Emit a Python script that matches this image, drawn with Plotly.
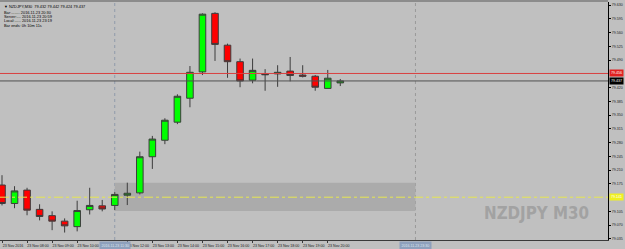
import plotly.graph_objects as go

# ---------------- data ----------------
times = ["2016-11-23 07:00", "2016-11-23 07:30", "2016-11-23 08:00", "2016-11-23 08:30",
         "2016-11-23 09:00", "2016-11-23 09:30", "2016-11-23 10:00", "2016-11-23 10:30",
         "2016-11-23 11:00", "2016-11-23 11:30", "2016-11-23 12:00", "2016-11-23 12:30",
         "2016-11-23 13:00", "2016-11-23 13:30", "2016-11-23 14:00", "2016-11-23 14:30",
         "2016-11-23 15:00", "2016-11-23 15:30", "2016-11-23 16:00", "2016-11-23 16:30",
         "2016-11-23 17:00", "2016-11-23 17:30", "2016-11-23 18:00", "2016-11-23 18:30",
         "2016-11-23 19:00", "2016-11-23 19:30", "2016-11-23 20:00", "2016-11-23 20:30"]
opens  = [79.172, 79.125, 79.159, 79.110, 79.094, 79.080, 79.066, 79.109, 79.119, 79.120,
          79.146, 79.152, 79.244, 79.286, 79.332, 79.393, 79.460, 79.609, 79.528, 79.486,
          79.439, 79.455, 79.455, 79.462, 79.452, 79.449, 79.418, 79.432]
highs  = [79.197, 79.169, 79.165, 79.123, 79.105, 79.087, 79.132, 79.165, 79.134, 79.154,
          79.178, 79.257, 79.297, 79.342, 79.403, 79.475, 79.609, 79.612, 79.532, 79.494,
          79.494, 79.467, 79.477, 79.498, 79.477, 79.452, 79.465, 79.442]
lows   = [79.120, 79.113, 79.095, 79.082, 79.057, 79.051, 79.054, 79.097, 79.105, 79.108,
          79.121, 79.148, 79.213, 79.276, 79.327, 79.370, 79.452, 79.488, 79.445, 79.421,
          79.431, 79.412, 79.422, 79.436, 79.446, 79.412, 79.418, 79.424]
closes = [79.125, 79.157, 79.108, 79.092, 79.080, 79.068, 79.107, 79.120, 79.111, 79.148,
          79.151, 79.244, 79.289, 79.337, 79.398, 79.459, 79.607, 79.530, 79.486, 79.437,
          79.464, 79.453, 79.459, 79.451, 79.449, 79.421, 79.444, 79.437]

# 11:00 label is hidden behind the time box in the reference
x_tick_vals = ["2016-11-23 07:00", "2016-11-23 08:00", "2016-11-23 09:00", "2016-11-23 10:00",
               "2016-11-23 12:00", "2016-11-23 13:00", "2016-11-23 14:00",
               "2016-11-23 15:00", "2016-11-23 16:00", "2016-11-23 17:00", "2016-11-23 18:00",
               "2016-11-23 19:00", "2016-11-23 20:00"]
x_tick_text = ["23 Nov 2016", "23 Nov 08:00", "23 Nov 09:00", "23 Nov 10:00",
               "23 Nov 12:00", "23 Nov 13:00", "23 Nov 14:00",
               "23 Nov 15:00", "23 Nov 16:00", "23 Nov 17:00", "23 Nov 18:00",
               "23 Nov 19:00", "23 Nov 20:00"]
# 79.455 and 79.140 are hidden behind the price boxes in the reference
y_tick_vals = [79.630, 79.595, 79.560, 79.525, 79.490, 79.420, 79.385, 79.350,
               79.315, 79.280, 79.245, 79.210, 79.175, 79.105, 79.070, 79.035]
y_tick_text = ["79.630", "79.595", "79.560", "79.525", "79.490", "79.420", "79.385", "79.350",
               "79.315", "79.280", "79.245", "79.210", "79.175", "79.105", "79.070", "79.035"]

x_range = ["2016-11-23 06:55:13", "2016-11-24 07:11:00"]
y_range = [79.032, 79.638]

ask_price = 79.456
bid_price = 79.437
level_price = 79.141
zone_start = "2016-11-23 11:30"
zone_end = "2016-11-23 23:30"
zone_low = 79.106
zone_high = 79.178

header_lines = [
    "\u25BC NZDJPY,M30  79.432 79.442 79.424 79.437",
    "Bar:........ 2016.11.23 20:30",
    "Server:.... 2016.11.23 20:59",
    "Local:...... 2016.11.23 23:19",
    "Bar ends: 0h 10m 11s",
]
header_shift = [0, -6, -10, -14, -19]

# ---------------- figure ----------------
BG = "#C0C0C0"
FONT = "Liberation Sans, DejaVu Sans, sans-serif"
fig = go.Figure()
fig.add_trace(go.Candlestick(
    x=times, open=opens, high=highs, low=lows, close=closes,
    increasing=dict(fillcolor="#00FF00", line=dict(color="#3C3C3C", width=1)),
    decreasing=dict(fillcolor="#FF0000", line=dict(color="#3C3C3C", width=1)),
    whiskerwidth=0, showlegend=False, hoverinfo="skip",
))

shapes = [
    dict(type="rect", xref="x", yref="y", x0=zone_start, x1=zone_end, y0=zone_low, y1=zone_high,
         fillcolor="#ABABAB", line=dict(width=0), layer="below"),
    dict(type="line", xref="x", yref="paper", x0=zone_start, x1=zone_start, y0=0, y1=1,
         line=dict(color="#8F9AAA", width=1, dash="dot"), layer="below"),
    dict(type="line", xref="x", yref="paper", x0=zone_end, x1=zone_end, y0=0, y1=1,
         line=dict(color="#9A9A9A", width=1, dash="dot"), layer="below"),
    dict(type="line", xref="paper", yref="y", x0=0, x1=1, y0=level_price, y1=level_price,
         line=dict(color="#E6E650", width=1, dash="dashdot")),
    dict(type="line", xref="paper", yref="y", x0=0, x1=1, y0=ask_price, y1=ask_price,
         line=dict(color="#D84040", width=1)),
    dict(type="line", xref="paper", yref="y", x0=0, x1=1, y0=bid_price, y1=bid_price,
         line=dict(color="#505050", width=1)),
    dict(type="rect", xref="paper", yref="paper", x0=0, x1=1, y0=1, y1=1.009,
         fillcolor="#8C8C8C", line=dict(width=0)),
]

small = dict(family=FONT, size=3.6, color="#1A1A1A")

annotations = []
for line, sh in zip(header_lines, header_shift):
    annotations.append(dict(
        xref="paper", yref="paper", x=0, y=1, xanchor="left", yanchor="top",
        xshift=2, yshift=sh, text=line, showarrow=False,
        font=dict(family=FONT, size=3.9, color="#000000"),
    ))

for price, bg, fg in [(ask_price, "#E02020", "#FFFFFF"), (bid_price, "#000000", "#FFFFFF"),
                      (level_price, "#F0F020", "#FFFFFF")]:
    annotations.append(dict(
        xref="paper", yref="y", x=1, y=price, xanchor="left", yanchor="middle", xshift=1,
        text="%.3f" % price, showarrow=False, bgcolor=bg, borderpad=1,
        font=dict(family=FONT, size=3.6, color=fg),
    ))

for t in [zone_start, zone_end]:
    annotations.append(dict(
        xref="x", yref="paper", x=t, y=0, xanchor="center", yanchor="top", yshift=-1,
        text=t.replace("-", "."), showarrow=False, bgcolor="#8EA0BC", borderpad=1.5,
        font=dict(family=FONT, size=3.6, color="#DDE4EE"),
    ))

annotations.append(dict(
    xref="paper", yref="paper", x=0.972, y=0.113, xanchor="right", yanchor="middle",
    text="<b>NZDJPY M30</b>", showarrow=False,
    font=dict(family="Liberation Sans Narrow, DejaVu Sans Condensed, Arial Narrow, sans-serif",
              size=16.8, color="#A2A2A2"),
))

fig.update_layout(
    width=625, height=249,
    margin=dict(l=0, r=17, t=2, b=9, autoexpand=False),
    paper_bgcolor=BG, plot_bgcolor=BG,
    boxgap=0.25,
    shapes=shapes, annotations=annotations,
    xaxis=dict(type="date", range=x_range, rangeslider=dict(visible=False),
               showgrid=False, zeroline=False, showline=True, linecolor="#3A3A3A", linewidth=1,
               tickvals=x_tick_vals, ticktext=x_tick_text, ticks="outside", ticklen=2,
               tickcolor="#3A3A3A", tickfont=small, tickangle=0, ticklabelshift=11,
               ticklabelstandoff=0, automargin=False, fixedrange=True),
    yaxis=dict(side="right", range=y_range, showgrid=False, zeroline=False, showline=True,
               linecolor="#000000", linewidth=1, tickvals=y_tick_vals, ticktext=y_tick_text,
               ticks="outside", ticklen=2, tickcolor="#000000", tickfont=small,
               ticklabelstandoff=0, automargin=False, fixedrange=True),
    showlegend=False,
)

fig.write_html("out.html")
